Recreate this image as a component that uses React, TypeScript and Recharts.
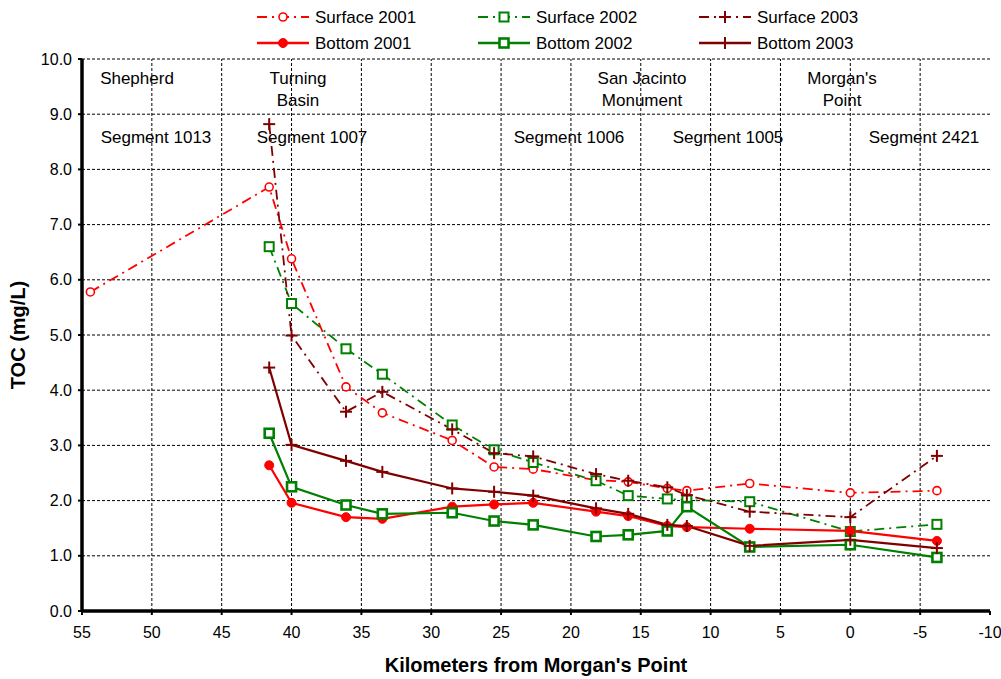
import React from 'react';
import { LineChart, Line, XAxis, YAxis, ReferenceLine } from 'recharts';

// station positions, km from Morgan's Point
const stationKm = [41.6, 40.0, 36.1, 33.5, 28.5, 25.5, 22.7, 18.2, 15.9, 13.1, 11.7, 7.2, 0.0, -6.2];
const surface2001Km = [54.4, ...stationKm];

// TOC (mg/L)
const surface2001 = [5.78, 7.68, 6.38, 4.06, 3.59, 3.09, 2.61, 2.57, 2.37, 2.34, 2.22, 2.18, 2.31, 2.14, 2.18];
const surface2002 = [6.6, 5.57, 4.75, 4.29, 3.37, 2.92, 2.69, 2.36, 2.09, 2.03, 2.01, 1.98, 1.44, 1.57];
const surface2003 = [8.82, 4.99, 3.61, 3.97, 3.29, 2.86, 2.8, 2.48, 2.36, 2.24, 2.1, 1.8, 1.7, 2.81];
const bottom2001 = [2.64, 1.96, 1.7, 1.67, 1.89, 1.93, 1.96, 1.8, 1.72, 1.54, 1.52, 1.49, 1.45, 1.27];
const bottom2002 = [3.22, 2.25, 1.92, 1.76, 1.78, 1.63, 1.56, 1.35, 1.38, 1.45, 1.89, 1.16, 1.2, 0.97];
const bottom2003 = [4.41, 3.01, 2.72, 2.52, 2.22, 2.16, 2.09, 1.86, 1.76, 1.56, 1.54, 1.18, 1.29, 1.14];

const xTicks = [55, 50, 45, 40, 35, 30, 25, 20, 15, 10, 5, 0, -5, -10];
const yTicks = [0, 1, 2, 3, 4, 5, 6, 7, 8, 9, 10];

const RED = '#ff0000';
const GREEN = '#008000';
const MAROON = '#800000';
const DASH = '10 5 2 5';
const FONT = '"Liberation Sans", Arial, sans-serif';

const toPoints = (km: number[], vals: number[]) => km.map((k, i) => ({ km: k, toc: vals[i] }));

type Marker = 'openCircle' | 'dot' | 'openSquare' | 'square' | 'plus';

function drawMarker(kind: Marker, color: string, cx: number, cy: number, key?: React.Key) {
  switch (kind) {
    case 'openCircle':
      return <circle key={key} cx={cx} cy={cy} r={4} fill="#fff" stroke={color} strokeWidth={1.6} />;
    case 'dot':
      return <circle key={key} cx={cx} cy={cy} r={4.5} fill={color} stroke={color} />;
    case 'openSquare':
      return <rect key={key} x={cx - 4.5} y={cy - 4.5} width={9} height={9} fill="#fff" stroke={color} strokeWidth={2} />;
    case 'square':
      return <rect key={key} x={cx - 4.5} y={cy - 4.5} width={9} height={9} fill="#fff" stroke={color} strokeWidth={2.6} />;
    default:
      return (
        <g key={key}>
          <line x1={cx - 6} y1={cy} x2={cx + 6} y2={cy} stroke={color} strokeWidth={2} />
          <line x1={cx} y1={cy - 6} x2={cx} y2={cy + 6} stroke={color} strokeWidth={2} />
        </g>
      );
  }
}

const series = [
  { name: 'Surface 2001', km: surface2001Km, vals: surface2001, color: RED, marker: 'openCircle' as Marker, dash: DASH },
  { name: 'Surface 2002', km: stationKm, vals: surface2002, color: GREEN, marker: 'openSquare' as Marker, dash: DASH },
  { name: 'Surface 2003', km: stationKm, vals: surface2003, color: MAROON, marker: 'plus' as Marker, dash: DASH },
  { name: 'Bottom 2001', km: stationKm, vals: bottom2001, color: RED, marker: 'dot' as Marker, dash: undefined },
  { name: 'Bottom 2002', km: stationKm, vals: bottom2002, color: GREEN, marker: 'square' as Marker, dash: undefined },
  { name: 'Bottom 2003', km: stationKm, vals: bottom2003, color: MAROON, marker: 'plus' as Marker, dash: undefined },
];

const legendCols = [257, 478, 699];
const legendRows = [17, 43];

const places = [
  { x: 137, lines: ['Shepherd'] },
  { x: 298, lines: ['Turning', 'Basin'] },
  { x: 642, lines: ['San Jacinto', 'Monument'] },
  { x: 842, lines: ["Morgan's", 'Point'] },
];
const segments = [
  { x: 156, label: 'Segment 1013' },
  { x: 312, label: 'Segment 1007' },
  { x: 569, label: 'Segment 1006' },
  { x: 728, label: 'Segment 1005' },
  { x: 924, label: 'Segment 2421' },
];

export default function App() {
  return (
    <div style={{ position: 'absolute', left: 0, top: 0, width: 1001, height: 679, background: '#fff', fontFamily: FONT }}>
      <LineChart width={1001} height={679} margin={{ top: 59, right: 11, bottom: 0, left: 0 }}>
        <XAxis
          dataKey="km"
          type="number"
          domain={[-10, 55]}
          reversed
          ticks={xTicks}
          allowDataOverflow
          height={68}
          axisLine={{ stroke: '#000', strokeWidth: 3.5 }}
          tickLine={{ stroke: '#000', strokeWidth: 2 }}
          tickSize={4}
          tickMargin={12}
          tick={{ fill: '#000', fontSize: 16, fontFamily: FONT }}
        />
        <YAxis
          type="number"
          domain={[0, 10]}
          ticks={yTicks}
          width={82}
          axisLine={{ stroke: '#000', strokeWidth: 3.5 }}
          tickLine={{ stroke: '#000', strokeWidth: 2 }}
          tickSize={4}
          tickMargin={6}
          tickFormatter={(v: number) => v.toFixed(1)}
          tick={{ fill: '#000', fontSize: 16, fontFamily: FONT }}
        />
        {xTicks.slice(1, -1).map((k) => (
          <ReferenceLine key={'vx' + k} x={k} stroke="#000" strokeWidth={1} strokeDasharray="3 2" />
        ))}
        {yTicks.slice(1).map((v) => (
          <ReferenceLine key={'hy' + v} y={v} stroke="#000" strokeWidth={1} strokeDasharray="3 2" />
        ))}
        {series.map((s) => (
          <Line
            key={s.name}
            name={s.name}
            data={toPoints(s.km, s.vals)}
            dataKey="toc"
            type="linear"
            stroke={s.color}
            strokeWidth={s.dash ? 1.8 : 2.2}
            strokeDasharray={s.dash}
            isAnimationActive={false}
            dot={(p: any) => drawMarker(s.marker, s.color, p.cx, p.cy, p.index)}
            activeDot={false}
          />
        ))}

        {places.map((p) =>
          p.lines.map((t, i) => (
            <text key={t} x={p.x} y={84 + i * 22} textAnchor="middle" fontSize={17} fontFamily={FONT} fill="#000">
              {t}
            </text>
          ))
        )}
        {segments.map((s) => (
          <text key={s.label} x={s.x} y={143} textAnchor="middle" fontSize={17} fontFamily={FONT} fill="#000">
            {s.label}
          </text>
        ))}

        {series.map((s, i) => {
          const x0 = legendCols[i % 3];
          const y = legendRows[Math.floor(i / 3)];
          return (
            <g key={'lg' + s.name}>
              <line x1={x0} y1={y} x2={x0 + 52} y2={y} stroke={s.color} strokeWidth={s.dash ? 1.8 : 2.4} strokeDasharray={s.dash} />
              {drawMarker(s.marker, s.color, x0 + 26, y)}
              <text x={x0 + 58} y={y + 6} fontSize={17} fontFamily={FONT} fill="#000">
                {s.name}
              </text>
            </g>
          );
        })}

        <text x={536} y={672} textAnchor="middle" fontSize={20} fontWeight="bold" fontFamily={FONT} fill="#000">
          Kilometers from Morgan's Point
        </text>
        <text x={25} y={335} transform="rotate(-90 25 335)" textAnchor="middle" fontSize={20} fontWeight="bold" fontFamily={FONT} fill="#000">
          TOC (mg/L)
        </text>
      </LineChart>
    </div>
  );
}
